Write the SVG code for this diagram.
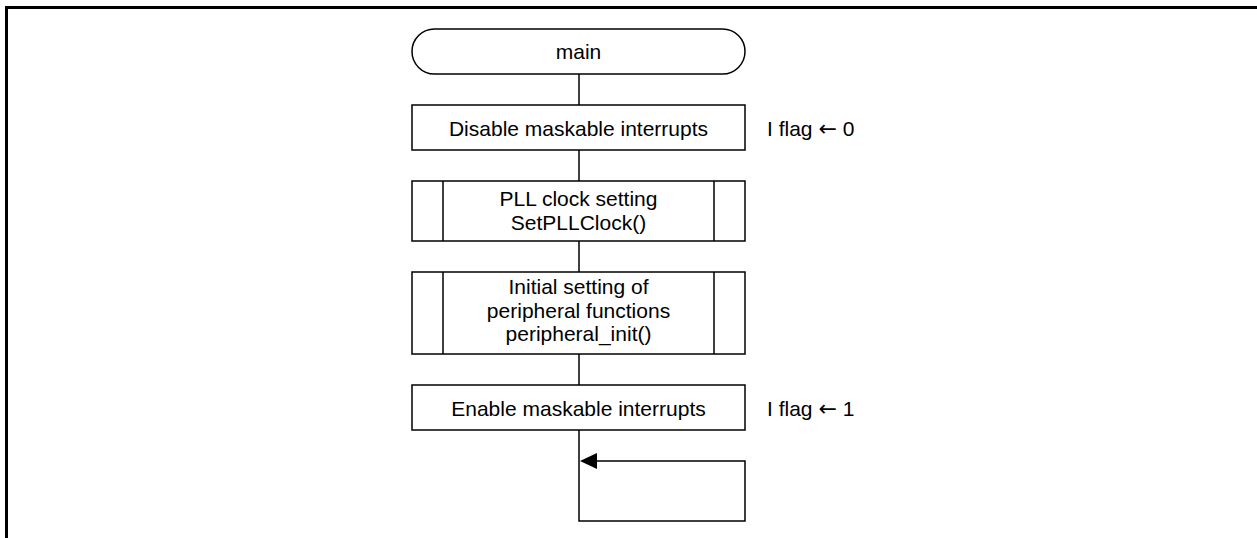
<svg xmlns="http://www.w3.org/2000/svg" width="1257" height="538" viewBox="0 0 1257 538">
<style>
.s{fill:#fff;stroke:#000;stroke-width:1.5}
.l{fill:none;stroke:#000;stroke-width:1.5}
.t{font-family:"Liberation Sans",Arial,sans-serif;font-size:21px;fill:#000;text-anchor:middle}
.n{font-family:"Liberation Sans",Arial,sans-serif;font-size:21px;fill:#000}
.a{font-family:"DejaVu Sans",sans-serif;font-size:22px}
</style>
<path d="M6.5,538 V7.5 H1257" fill="none" stroke="#000" stroke-width="3"/>
<g id="connectors">
<path class="l" d="M579,74 V105"/>
<path class="l" d="M579,150 V181"/>
<path class="l" d="M579,241 V272"/>
<path class="l" d="M579,354 V385"/>
<path class="l" d="M579,430 V521 H745 V461 H596"/>
<path d="M580,461 L597,453 L597,469 Z" fill="#000"/>
</g>
<g id="main">
<rect class="s" x="412" y="29" width="333" height="45" rx="22.5"/>
<text class="t" x="578.5" y="59">main</text>
</g>
<g id="disable">
<rect class="s" x="412" y="105" width="333" height="45"/>
<text class="t" x="578.5" y="135.5">Disable maskable interrupts</text>
</g>
<g id="iflag0">
<text class="n" x="767" y="135.5">I flag <tspan class="a">←</tspan> 0</text>
</g>
<g id="pll">
<rect class="s" x="412" y="181" width="333" height="60"/>
<path class="l" d="M443,181 V241 M714,181 V241"/>
<text class="t" x="578.5" y="206">PLL clock setting</text>
<text class="t" x="578.5" y="229.5">SetPLLClock()</text>
</g>
<g id="periph">
<rect class="s" x="412" y="272" width="333" height="82"/>
<path class="l" d="M443,272 V354 M714,272 V354"/>
<text class="t" x="578.5" y="294">Initial setting of</text>
<text class="t" x="578.5" y="317.5">peripheral functions</text>
<text class="t" x="578.5" y="341">peripheral_init()</text>
</g>
<g id="enable">
<rect class="s" x="412" y="385" width="333" height="45"/>
<text class="t" x="578.5" y="415.5">Enable maskable interrupts</text>
</g>
<g id="iflag1">
<text class="n" x="767" y="415.5">I flag <tspan class="a">←</tspan> 1</text>
</g>
</svg>
